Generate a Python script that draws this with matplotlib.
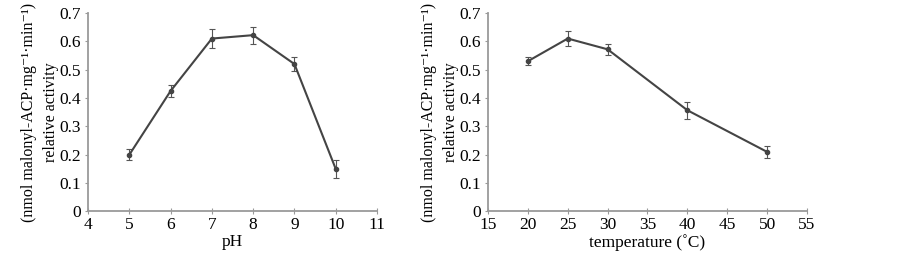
import matplotlib
matplotlib.use("Agg")
import matplotlib.pyplot as plt

# pH series
ph = [5, 6, 7, 8, 9, 10]
ph_act = [0.20, 0.425, 0.61, 0.622, 0.52, 0.15]
ph_err = [0.02, 0.02, 0.032, 0.03, 0.025, 0.032]

# temperature series
temp = [20, 25, 30, 40, 50]
temp_act = [0.53, 0.61, 0.572, 0.357, 0.21]
temp_err = [0.015, 0.025, 0.02, 0.03, 0.02]

plt.rcParams['font.family'] = ['Liberation Serif', 'DejaVu Serif']

fig = plt.figure(figsize=(9.03, 2.61), dpi=100)
ax1 = fig.add_axes([0.0975, 0.19, 0.32, 0.76])
ax2 = fig.add_axes([0.5404, 0.19, 0.3533, 0.76])

ylab = "(nmol malonyl-ACP\u00b7mg\u207b\u00b9\u00b7min\u207b\u00b9)\nrelative activity"

line_col = '#444444'
spine_col = '#9a9a9a'
fs = 12.5


def style(ax):
    for s in ['top', 'right']:
        ax.spines[s].set_visible(False)
    for s in ['left', 'bottom']:
        ax.spines[s].set_color(spine_col)
        ax.spines[s].set_linewidth(1.3)
    ax.tick_params(axis='y', direction='out', length=2, color=spine_col, labelsize=fs, pad=3)
    ax.tick_params(axis='x', direction='inout', length=4, color=spine_col, labelsize=fs, pad=2)
    ax.set_ylim(0, 0.7)
    ax.set_yticks([0, 0.1, 0.2, 0.3, 0.4, 0.5, 0.6, 0.7])
    ax.set_yticklabels(['0', '0.1', '0.2', '0.3', '0.4', '0.5', '0.6', '0.7'])
    ax.set_ylabel(ylab, fontsize=11.5, linespacing=1.5, labelpad=0)


ax1.errorbar(ph, ph_act, yerr=ph_err, color=line_col, lw=1.5, marker='o', ms=3,
             ecolor='#555555', elinewidth=0.8, capsize=2, capthick=0.8)
ax1.set_xlim(4, 11)
ax1.set_xticks(range(4, 12))
ax1.set_xlabel('pH', fontsize=fs, labelpad=1)
style(ax1)

ax2.errorbar(temp, temp_act, yerr=temp_err, color=line_col, lw=1.5, marker='o', ms=3,
             ecolor='#555555', elinewidth=0.8, capsize=2, capthick=0.8)
ax2.set_xlim(15, 55)
ax2.set_xticks(range(15, 56, 5))
ax2.set_xlabel('temperature (\u02daC)', fontsize=fs, labelpad=1)
style(ax2)

fig.savefig('out.png', dpi=100)
